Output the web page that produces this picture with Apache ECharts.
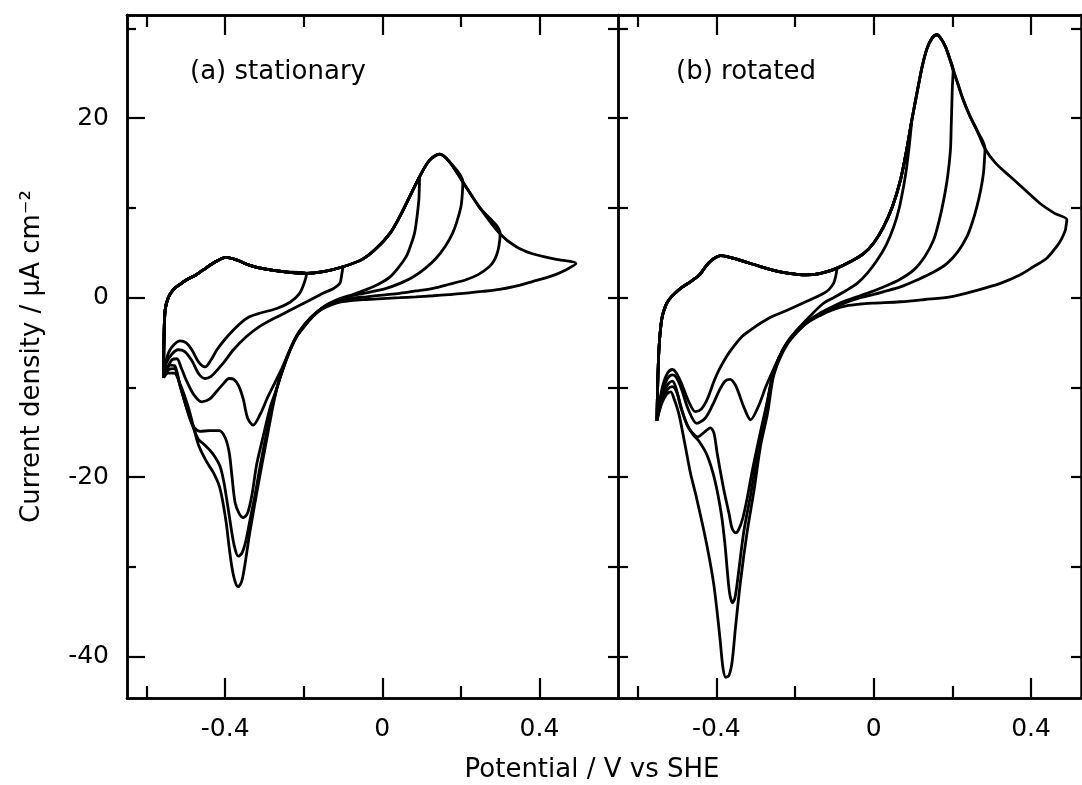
<!DOCTYPE html>
<html>
<head>
<meta charset="utf-8">
<title>Cyclic voltammograms</title>
<script src="https://cdn.jsdelivr.net/npm/echarts@6/dist/echarts.min.js"></script>
<style>
  html, body { margin: 0; padding: 0; background: #fff; }
  #chart { width: 1082px; height: 785px; }
</style>
</head>
<body>
<div id="chart"></div>
<script>
// Font used for every text of the figure
const FONT = '"DejaVu Sans", sans-serif';
const FONT_SIZE = 25;

// Axis ranges (V and uA cm-2)
const X_MIN = -0.65;
const X_MAX_A = 0.6;
const X_MAX_B = 0.527;
const Y_MIN = -44.6;
const Y_MAX = 31.5;

// Tick positions
const xMajor = [-0.4, 0, 0.4];
const xMinor = [-0.6, -0.2, 0.2];
const yMajor = [-40, -20, 0, 20];
const yMinor = [-30, -10, 10, 30];
const yAll = [-40, -30, -20, -10, 0, 10, 20, 30];

// Panel (a) stationary: shared anodic sweep from the cathodic limit
const anodicA = [
  [-0.557, -8.9], [-0.556, -5.0], [-0.553, -1.4], [-0.545, 0.0], [-0.532, 0.9],
  [-0.515, 1.5], [-0.498, 2.0], [-0.476, 2.5], [-0.456, 3.1], [-0.425, 4.0],
  [-0.398, 4.5], [-0.37, 4.2], [-0.337, 3.6], [-0.3, 3.2], [-0.252, 2.9],
  [-0.193, 2.7], [-0.15, 2.9], [-0.1, 3.45], [-0.05, 4.3], [-0.015, 5.5],
  [0.02, 7.2], [0.044, 9.0], [0.07, 11.3], [0.095, 13.5], [0.12, 15.3],
  [0.146, 16.0], [0.17, 15.2], [0.205, 12.9], [0.247, 10.1], [0.3, 7.1],
  [0.34, 5.7], [0.382, 4.9], [0.44, 4.3], [0.493, 3.8]
];

// Panel (a) cathodic sweeps, one per reversal potential
const cathA_m02 = [
  [-0.193, 2.7], [-0.2, 1.5], [-0.212, 0.4], [-0.235, -0.5], [-0.269, -1.2],
  [-0.31, -1.7], [-0.337, -2.1], [-0.36, -2.8], [-0.379, -3.6], [-0.4, -4.6],
  [-0.421, -5.8], [-0.437, -7.0], [-0.451, -7.7], [-0.467, -7.2], [-0.485, -5.8],
  [-0.5, -5.0], [-0.515, -4.8], [-0.53, -5.2], [-0.543, -6.0], [-0.552, -7.3],
  [-0.557, -8.6]
];
const cathA_m01 = [
  [-0.1, 3.45], [-0.104, 2.4], [-0.108, 1.6], [-0.125, 1.0], [-0.151, 0.5],
  [-0.19, -0.4], [-0.235, -1.4], [-0.275, -2.3], [-0.312, -3.2], [-0.345, -4.3],
  [-0.379, -5.8], [-0.405, -7.3], [-0.421, -8.1], [-0.437, -8.8], [-0.451, -9.0],
  [-0.467, -8.5], [-0.485, -7.0], [-0.503, -6.0], [-0.52, -5.8], [-0.536, -6.3],
  [-0.549, -7.2], [-0.557, -8.7]
];
const cathA_p01 = [
  [0.095, 13.5], [0.094, 12.0], [0.093, 10.9], [0.088, 8.9], [0.082, 7.2],
  [0.072, 5.8], [0.061, 4.6], [0.04, 3.3], [0.019, 2.3], [-0.01, 1.5],
  [-0.041, 0.9], [-0.075, 0.35], [-0.108, -0.1], [-0.142, -0.8], [-0.18, -2.1],
  [-0.21, -3.7], [-0.235, -5.8], [-0.255, -7.8], [-0.275, -9.6], [-0.293, -11.2],
  [-0.31, -12.9], [-0.329, -14.2], [-0.343, -13.4], [-0.354, -11.3], [-0.366, -9.8],
  [-0.378, -9.1], [-0.39, -9.0], [-0.405, -9.6], [-0.421, -10.4], [-0.44, -11.3],
  [-0.46, -11.6], [-0.48, -10.8], [-0.498, -9.3], [-0.512, -7.8], [-0.523, -6.8],
  [-0.535, -6.9], [-0.547, -7.8], [-0.557, -8.8]
];
const cathA_p02 = [
  [0.205, 12.9], [0.203, 11.2], [0.2, 10.1], [0.19, 8.5], [0.179, 7.2],
  [0.16, 5.7], [0.137, 4.4], [0.11, 3.3], [0.078, 2.3], [0.045, 1.6],
  [0.01, 1.05], [-0.035, 0.6], [-0.075, 0.25], [-0.11, -0.25], [-0.145, -0.9],
  [-0.183, -2.3], [-0.215, -4.0], [-0.24, -6.3], [-0.258, -8.5], [-0.272, -10.5],
  [-0.286, -12.3], [-0.303, -15.4], [-0.32, -18.6], [-0.332, -22.0], [-0.343, -24.0],
  [-0.354, -24.5], [-0.365, -24.0], [-0.375, -22.8], [-0.383, -19.8], [-0.39, -17.2],
  [-0.4, -15.6], [-0.415, -14.8], [-0.44, -14.8], [-0.464, -14.9], [-0.478, -14.5],
  [-0.489, -13.6], [-0.503, -11.6], [-0.515, -9.8], [-0.528, -7.6], [-0.54, -7.5],
  [-0.55, -8.1], [-0.557, -8.9]
];
const cathA_p03 = [
  [0.3, 7.1], [0.297, 5.8], [0.292, 4.9], [0.284, 4.1], [0.272, 3.45],
  [0.245, 2.6], [0.213, 2.0], [0.17, 1.5], [0.129, 1.05], [0.085, 0.75],
  [0.044, 0.49], [0.0, 0.3], [-0.041, 0.1], [-0.075, -0.05], [-0.11, -0.35],
  [-0.145, -0.95], [-0.183, -2.35], [-0.215, -4.1], [-0.24, -6.4], [-0.258, -8.6],
  [-0.272, -10.7], [-0.285, -13.0], [-0.298, -15.8], [-0.312, -19.0], [-0.325, -22.2],
  [-0.337, -24.8], [-0.348, -27.2], [-0.358, -28.5], [-0.367, -28.8], [-0.376, -27.8],
  [-0.383, -26.2], [-0.39, -24.2], [-0.396, -22.5], [-0.404, -20.4], [-0.413, -18.8],
  [-0.425, -17.8], [-0.439, -17.0], [-0.455, -16.3], [-0.468, -15.8], [-0.481, -14.5],
  [-0.498, -12.3], [-0.515, -9.8], [-0.53, -7.9], [-0.543, -8.0], [-0.557, -8.9]
];
const cathA_p05 = [
  [0.493, 3.8], [0.467, 3.1], [0.43, 2.4], [0.382, 1.8], [0.34, 1.3],
  [0.298, 0.93], [0.255, 0.7], [0.213, 0.5], [0.17, 0.35], [0.129, 0.22],
  [0.085, 0.1], [0.044, 0.0], [0.0, -0.1], [-0.041, -0.2], [-0.075, -0.3],
  [-0.108, -0.5], [-0.13, -0.8], [-0.151, -1.2], [-0.17, -1.8], [-0.185, -2.5],
  [-0.2, -3.3], [-0.218, -4.3], [-0.232, -5.5], [-0.244, -6.9], [-0.256, -8.4],
  [-0.269, -10.2], [-0.282, -12.9], [-0.297, -16.4], [-0.312, -19.9], [-0.326, -23.3],
  [-0.339, -26.6], [-0.35, -29.8], [-0.358, -31.6], [-0.367, -32.2], [-0.375, -31.6],
  [-0.383, -30.0], [-0.39, -27.8], [-0.397, -25.2], [-0.405, -23.0], [-0.415, -21.0],
  [-0.43, -19.5], [-0.447, -18.3], [-0.468, -16.4], [-0.48, -14.5], [-0.494, -12.2],
  [-0.515, -9.6], [-0.53, -8.4], [-0.545, -8.4], [-0.557, -8.9]
];

// Panel (b) rotated: shared anodic sweep from the cathodic limit
const anodicB = [
  [-0.551, -13.7], [-0.549, -9.5], [-0.546, -5.8], [-0.542, -3.5], [-0.537, -2.0],
  [-0.528, -0.8], [-0.52, -0.2], [-0.505, 0.5], [-0.486, 1.2], [-0.465, 1.8],
  [-0.444, 2.5], [-0.43, 3.3], [-0.419, 3.9], [-0.405, 4.4], [-0.389, 4.7],
  [-0.365, 4.5], [-0.334, 4.1], [-0.29, 3.5], [-0.249, 3.0], [-0.215, 2.7],
  [-0.182, 2.55], [-0.15, 2.6], [-0.123, 2.85], [-0.093, 3.3], [-0.06, 4.0],
  [-0.025, 4.95], [0.0, 6.1], [0.025, 7.9], [0.048, 10.2], [0.068, 13.1],
  [0.083, 16.3], [0.097, 19.8], [0.11, 22.8], [0.123, 25.7], [0.135, 27.7],
  [0.148, 28.9], [0.161, 29.3], [0.172, 28.8], [0.182, 28.0], [0.192, 26.8],
  [0.202, 25.4], [0.215, 23.7], [0.228, 22.0], [0.245, 20.2], [0.262, 18.7],
  [0.283, 16.6], [0.31, 15.0], [0.347, 13.5], [0.385, 12.0], [0.423, 10.5],
  [0.46, 9.4], [0.491, 8.7]
];

// Panel (b) cathodic sweeps, one per reversal potential
const cathB_m01 = [
  [-0.093, 3.3], [-0.097, 2.3], [-0.102, 1.6], [-0.114, 0.9], [-0.127, 0.5],
  [-0.17, -0.4], [-0.22, -1.4], [-0.258, -2.1], [-0.29, -2.9], [-0.313, -3.6],
  [-0.334, -4.3], [-0.364, -5.9], [-0.38, -7.0], [-0.395, -8.2], [-0.406, -9.3],
  [-0.415, -10.4], [-0.425, -11.5], [-0.438, -12.4], [-0.453, -12.7], [-0.47, -11.6],
  [-0.49, -9.4], [-0.503, -8.3], [-0.512, -8.0], [-0.524, -8.4], [-0.535, -9.6],
  [-0.544, -11.5], [-0.551, -13.7]
];
const cathB_p01 = [
  [0.097, 19.8], [0.093, 18.0], [0.089, 16.4], [0.083, 14.3], [0.076, 12.4],
  [0.065, 10.0], [0.051, 7.9], [0.032, 5.9], [0.009, 4.2], [-0.015, 2.8],
  [-0.042, 1.6], [-0.07, 0.8], [-0.102, 0.0], [-0.13, -0.7], [-0.165, -2.2],
  [-0.195, -3.6], [-0.22, -5.0], [-0.24, -6.6], [-0.258, -8.3], [-0.275, -10.0],
  [-0.292, -12.0], [-0.313, -13.6], [-0.33, -12.2], [-0.34, -11.0], [-0.352, -9.7],
  [-0.365, -9.1], [-0.378, -9.3], [-0.392, -10.3], [-0.41, -12.0], [-0.428, -13.4],
  [-0.45, -14.0], [-0.47, -12.6], [-0.49, -10.0], [-0.503, -8.8], [-0.512, -8.6],
  [-0.524, -9.0], [-0.535, -10.2], [-0.544, -11.8], [-0.551, -13.7]
];
const cathB_p02 = [
  [0.202, 25.4], [0.2, 23.5], [0.199, 22.0], [0.197, 19.0], [0.195, 16.4],
  [0.188, 13.5], [0.178, 10.9], [0.166, 8.5], [0.152, 6.4], [0.13, 4.6],
  [0.102, 3.1], [0.065, 2.0], [0.025, 1.2], [-0.01, 0.6], [-0.042, 0.1],
  [-0.075, -0.4], [-0.105, -1.0], [-0.14, -1.8], [-0.17, -2.7], [-0.198, -3.8],
  [-0.222, -5.1], [-0.24, -6.6], [-0.256, -8.6], [-0.27, -11.5], [-0.283, -14.0],
  [-0.296, -16.6], [-0.31, -19.6], [-0.321, -22.2], [-0.333, -24.6], [-0.343, -25.8],
  [-0.351, -26.2], [-0.36, -25.7], [-0.368, -24.0], [-0.381, -21.4], [-0.398, -17.3],
  [-0.406, -15.1], [-0.415, -14.5], [-0.431, -15.0], [-0.448, -15.5], [-0.462, -15.0],
  [-0.474, -14.2], [-0.491, -12.1], [-0.503, -10.0], [-0.512, -9.3], [-0.524, -9.7],
  [-0.535, -10.8], [-0.544, -12.2], [-0.551, -13.7]
];
const cathB_p03 = [
  [0.283, 16.6], [0.281, 15.0], [0.279, 13.85], [0.272, 12.0], [0.262, 10.1],
  [0.25, 8.3], [0.237, 6.8], [0.215, 5.2], [0.186, 3.8], [0.15, 2.8],
  [0.11, 1.97], [0.068, 1.2], [0.025, 0.67], [-0.01, 0.25], [-0.042, -0.1],
  [-0.075, -0.6], [-0.105, -1.2], [-0.14, -1.95], [-0.17, -2.8], [-0.198, -3.9],
  [-0.222, -5.2], [-0.242, -6.8], [-0.258, -8.8], [-0.27, -11.5], [-0.283, -14.5],
  [-0.296, -17.5], [-0.313, -22.0], [-0.33, -26.0], [-0.347, -31.8], [-0.353, -33.5],
  [-0.359, -34.0], [-0.366, -33.0], [-0.372, -30.5], [-0.378, -27.5], [-0.387, -24.2],
  [-0.404, -20.3], [-0.423, -17.6], [-0.444, -16.0], [-0.46, -15.2], [-0.474, -14.2],
  [-0.487, -12.6], [-0.5, -10.6], [-0.512, -9.9], [-0.524, -10.2], [-0.535, -11.1],
  [-0.544, -12.3], [-0.551, -13.7]
];
const cathB_p05 = [
  [0.491, 8.7], [0.489, 8.0], [0.487, 7.5], [0.477, 6.5], [0.465, 5.7],
  [0.44, 4.4], [0.406, 3.45], [0.37, 2.5], [0.322, 1.6], [0.26, 0.8],
  [0.195, 0.1], [0.13, -0.2], [0.068, -0.45], [0.0, -0.6], [-0.034, -0.7],
  [-0.07, -0.9], [-0.102, -1.3], [-0.137, -2.0], [-0.169, -2.8], [-0.196, -3.9],
  [-0.22, -5.2], [-0.24, -6.9], [-0.256, -9.0], [-0.27, -12.9], [-0.288, -16.6],
  [-0.304, -21.4], [-0.321, -25.9], [-0.338, -31.4], [-0.351, -36.6], [-0.36, -40.6],
  [-0.368, -42.1], [-0.376, -42.3], [-0.383, -41.3], [-0.39, -38.3], [-0.398, -35.0],
  [-0.407, -31.8], [-0.42, -28.5], [-0.435, -25.3], [-0.452, -22.0], [-0.466, -19.5],
  [-0.48, -16.3], [-0.495, -13.0], [-0.508, -11.2], [-0.516, -10.5], [-0.527, -10.8],
  [-0.538, -11.7], [-0.546, -12.8], [-0.551, -13.7]
];

const cyclesA = [cathA_m02, cathA_m01, cathA_p01, cathA_p02, cathA_p03, cathA_p05];
const cyclesB = [cathB_m01, cathB_p01, cathB_p02, cathB_p03, cathB_p05];

/**
 * Joins the shared anodic sweep, cut at the reversal point, to one cathodic sweep.
 */
const buildCycle = (anodic, cathodic) => {
  const tip = cathodic[0][0];
  return anodic.filter(p => p[0] < tip).concat(cathodic);
};

const fmt = v => (Math.abs(v) < 1e-9 ? '0' : String(+v.toFixed(2)));

const xAxisDef = (grid, max, position, values, length, label) => ({
  type: 'value', gridIndex: grid, min: X_MIN, max: max, position: position,
  axisLine: { show: true, onZero: false, lineStyle: { color: '#000', width: 2.5 } },
  axisTick: { show: true, inside: true, length: length, customValues: values,
    lineStyle: { color: '#000', width: 2.2 } },
  axisLabel: { show: label, customValues: values, margin: 19, color: '#000',
    fontSize: FONT_SIZE, fontFamily: FONT, formatter: fmt },
  splitLine: { show: false }
});

const yAxisDef = (grid, position, values, length, label) => ({
  type: 'value', gridIndex: grid, min: Y_MIN, max: Y_MAX, position: position,
  axisLine: { show: true, onZero: false, lineStyle: { color: '#000', width: 2.5 } },
  axisTick: { show: true, inside: true, length: length, customValues: values,
    lineStyle: { color: '#000', width: 2.2 } },
  axisLabel: { show: label, customValues: values, margin: 18, color: '#000',
    fontSize: FONT_SIZE, fontFamily: FONT, formatter: fmt },
  splitLine: { show: false }
});

const yMain = yAxisDef(0, 'left', yMajor, 18, true);
yMain.name = 'Current density / μA cm⁻²';
yMain.nameLocation = 'middle';
yMain.nameGap = 82;
yMain.nameTextStyle = { color: '#000', fontSize: 26, fontFamily: FONT };

const lineSeries = (data, xi, yi) => ({
  type: 'line', data: data, xAxisIndex: xi, yAxisIndex: yi,
  showSymbol: false, smooth: 0.3, silent: true,
  lineStyle: { color: '#000', width: 2.8 }
});

const series = [];
cyclesA.forEach(c => series.push(lineSeries(buildCycle(anodicA, c), 0, 0)));
cyclesB.forEach(c => series.push(lineSeries(buildCycle(anodicB, c), 4, 3)));

const textStyle = (text, align) => ({
  text: text, fill: '#000', fontSize: 26, fontFamily: FONT,
  align: align, verticalAlign: 'middle'
});

const chart = echarts.init(document.getElementById('chart'), null, { renderer: 'canvas' });
chart.setOption({
  animation: false,
  backgroundColor: '#fff',
  grid: [
    { left: 127, top: 15, width: 491, height: 683 },
    { left: 618, top: 15, width: 463, height: 683 }
  ],
  xAxis: [
    xAxisDef(0, X_MAX_A, 'bottom', xMajor, 20, true),
    xAxisDef(0, X_MAX_A, 'bottom', xMinor, 12, false),
    xAxisDef(0, X_MAX_A, 'top', xMajor, 20, false),
    xAxisDef(0, X_MAX_A, 'top', xMinor, 12, false),
    xAxisDef(1, X_MAX_B, 'bottom', xMajor, 20, true),
    xAxisDef(1, X_MAX_B, 'bottom', xMinor, 12, false),
    xAxisDef(1, X_MAX_B, 'top', xMajor, 20, false),
    xAxisDef(1, X_MAX_B, 'top', xMinor, 12, false)
  ],
  yAxis: [
    yMain,
    yAxisDef(0, 'left', yMinor, 9, false),
    yAxisDef(0, 'right', yAll, 10, false),
    yAxisDef(1, 'left', yAll, 10, false),
    yAxisDef(1, 'right', yAll, 10, false)
  ],
  graphic: [
    { type: 'text', x: 190, y: 72, silent: true, style: textStyle('(a) stationary', 'left') },
    { type: 'text', x: 676, y: 72, silent: true, style: textStyle('(b) rotated', 'left') },
    { type: 'text', x: 592, y: 770, silent: true, style: textStyle('Potential / V vs SHE', 'center') }
  ],
  series: series
});
</script>
</body>
</html>
